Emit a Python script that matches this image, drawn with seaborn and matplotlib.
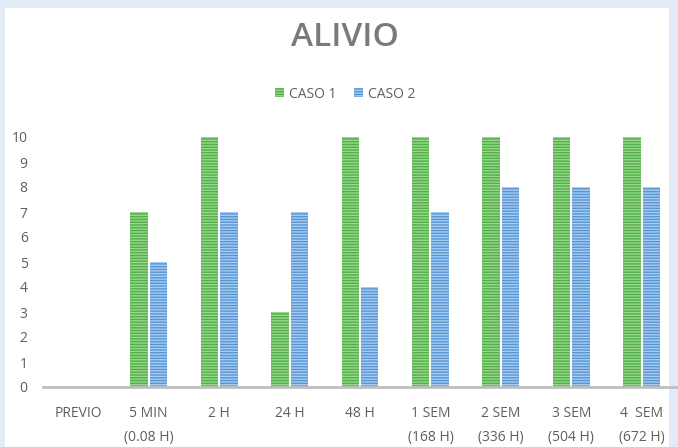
import matplotlib
matplotlib.use("Agg")
import matplotlib.pyplot as plt
import seaborn as sns
import pandas as pd
from matplotlib.patches import Rectangle, Patch

categories = ["PREVIO", "5 MIN\n(0.08 H)", "2 H", "24 H", "48 H",
              "1 SEM\n(168 H)", "2 SEM\n(336 H)", "3 SEM\n(504 H)", "4  SEM\n(672 H)"]
caso1 = [0, 7, 10, 3, 10, 10, 10, 10, 10]
caso2 = [0, 5, 7, 7, 4, 7, 8, 8, 8]
series_names = ["CASO 1", "CASO 2"]
yticks = list(range(0, 11))

df = pd.DataFrame({
    "cat": categories * 2,
    "valor": caso1 + caso2,
    "serie": [series_names[0]] * len(categories) + [series_names[1]] * len(categories),
})

sns.set_theme(style="white")
plt.rcParams["font.family"] = ["Open Sans", "DejaVu Sans"]
plt.rcParams["hatch.linewidth"] = 1.0

W, H = 678, 447
fig = plt.figure(figsize=(W / 100, H / 100), dpi=100)
fig.patch.set_facecolor("#e3ecf6")
# white chart panel
fig.patches.append(Rectangle((5 / W, 0), 664 / W, 439 / H, transform=fig.transFigure,
                             facecolor="white", edgecolor="none", zorder=-1))

ax = fig.add_axes([43 / W, 60 / H, 634 / W, 250 / H])
ax.set_zorder(2)
ax.set_facecolor("none")

face = {"CASO 1": "#4fb043", "CASO 2": "#5596d6"}
stripe = {"CASO 1": "#9ad690", "CASO 2": "#a9cbef"}

sns.barplot(data=df, x="cat", y="valor", hue="serie", palette=face,
            width=0.55, gap=0.1, ax=ax, legend=False, saturation=1)

for cont, name in zip(ax.containers, series_names):
    for bar in cont:
        bar.set_hatch("------")
        bar.set_edgecolor(stripe[name])
        bar.set_linewidth(0)

ax.set_ylim(0, 10)
ax.set_xlim(-0.5, len(categories) - 0.5)
ax.set_yticks(yticks)
ax.set_xlabel("")
ax.set_ylabel("")
for s in ["top", "right", "left"]:
    ax.spines[s].set_visible(False)
ax.spines["bottom"].set_color("#bfbfbf")
ax.spines["bottom"].set_linewidth(2)
ax.tick_params(axis="both", length=0, colors="#5f5f5f", labelsize=10)
ax.tick_params(axis="y", pad=11)
ax.tick_params(axis="x", pad=14)
for t in ax.get_xticklabels():
    t.set_linespacing(1.8)

fig.text(345 / W, 1 - 38 / H, "ALIVIO", ha="center", va="center",
         fontsize=24, fontweight="semibold", color="#7a7a7a")

# legend
handles = [Patch(facecolor=face[n], edgecolor=stripe[n], hatch="------", linewidth=0)
           for n in series_names]
fig.legend(handles, series_names, loc="center", bbox_to_anchor=(345 / W, 1 - 94 / H),
           ncol=2, frameon=False, fontsize=10, handlelength=0.65, handleheight=0.65,
           handletextpad=0.35, columnspacing=1.3, labelcolor="#5f5f5f")

fig.savefig("out.png", dpi=100)
